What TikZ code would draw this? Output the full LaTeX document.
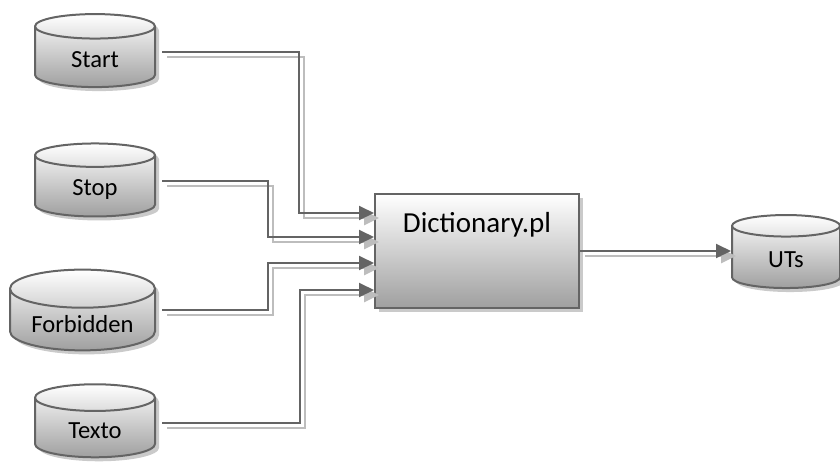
\documentclass[tikz,border=0pt]{standalone}
\usepackage{fontspec}
\setmainfont{Carlito}
\usepackage{tikz}
\usetikzlibrary{arrows.meta}
\usetikzlibrary{calc}
\usetikzlibrary{shapes.geometric}
\usetikzlibrary{shadows}

\definecolor{edgegray}{HTML}{646464}
\definecolor{shadowgray}{HTML}{BDBDBD}

\begin{document}
\begin{tikzpicture}[
    x=0.5pt, y=-0.5pt,
    softshadow/.style={drop shadow={shadow xshift=2pt, shadow yshift=-2pt, fill=shadowgray!80, opacity=1}},
    store/.style={cylinder, shape border rotate=90, aspect=0.4, draw=edgegray,
      line width=1pt, top color=white, bottom color=gray!75,
      minimum width=60pt, minimum height=36.5pt,
      font=\fontsize{12.3}{14}\selectfont, softshadow},
    proc/.style={rectangle, draw=edgegray, line width=1pt, top color=white,
      bottom color=gray!75, minimum width=102pt, minimum height=57pt,
      text height=10pt, text depth=29pt,
      font=\fontsize{14.5}{17}\selectfont, softshadow},
    flow/.style={draw=edgegray, line width=1pt, shorten <=3pt,
      -{Triangle[length=7.5pt,width=7pt]}},
    flowshadow/.style={flow, draw=shadowgray, line width=1.4pt,
      transform canvas={shift={(2.5pt,-2.5pt)}}}
  ]

    \useasboundingbox (0,0) rectangle (840,461);

    \node [store] (start) at (95,60) {Start};
    \node [store] (stop) at (95,189) {Stop};
    \node [store, minimum width=72.5pt, aspect=0.33] (forbidden) at (82.5,324) {Forbidden};
    \node [store] (texto) at (95,431) {Texto};
    \node [store, minimum width=54pt, aspect=0.44] (uts) at (786,260) {UTs};

    \node [proc] (dict) at (477,251) {Dictionary.pl};

    % shadow first, then the line itself
    \foreach \look in {flowshadow, flow} {
      \begin{scope}[\look]
        \draw ([yshift=4pt]start.east) -- ++(143,0) |- ($(dict.west)+(0,-38)$);
        \draw ([yshift=4pt]stop.east) -- ++(112,0) |- ($(dict.west)+(0,-14)$);
        \draw ([yshift=7pt]forbidden.east) -- ++(112,0) |- ($(dict.west)+(0,12)$);
        \draw ([yshift=4pt]texto.east) -- ++(144,0) |- ($(dict.west)+(0,39)$);
        \draw [shorten <=0pt] (dict.east) -- (dict.east -| uts.west);
      \end{scope}
    }

  \end{tikzpicture}
\end{document}
